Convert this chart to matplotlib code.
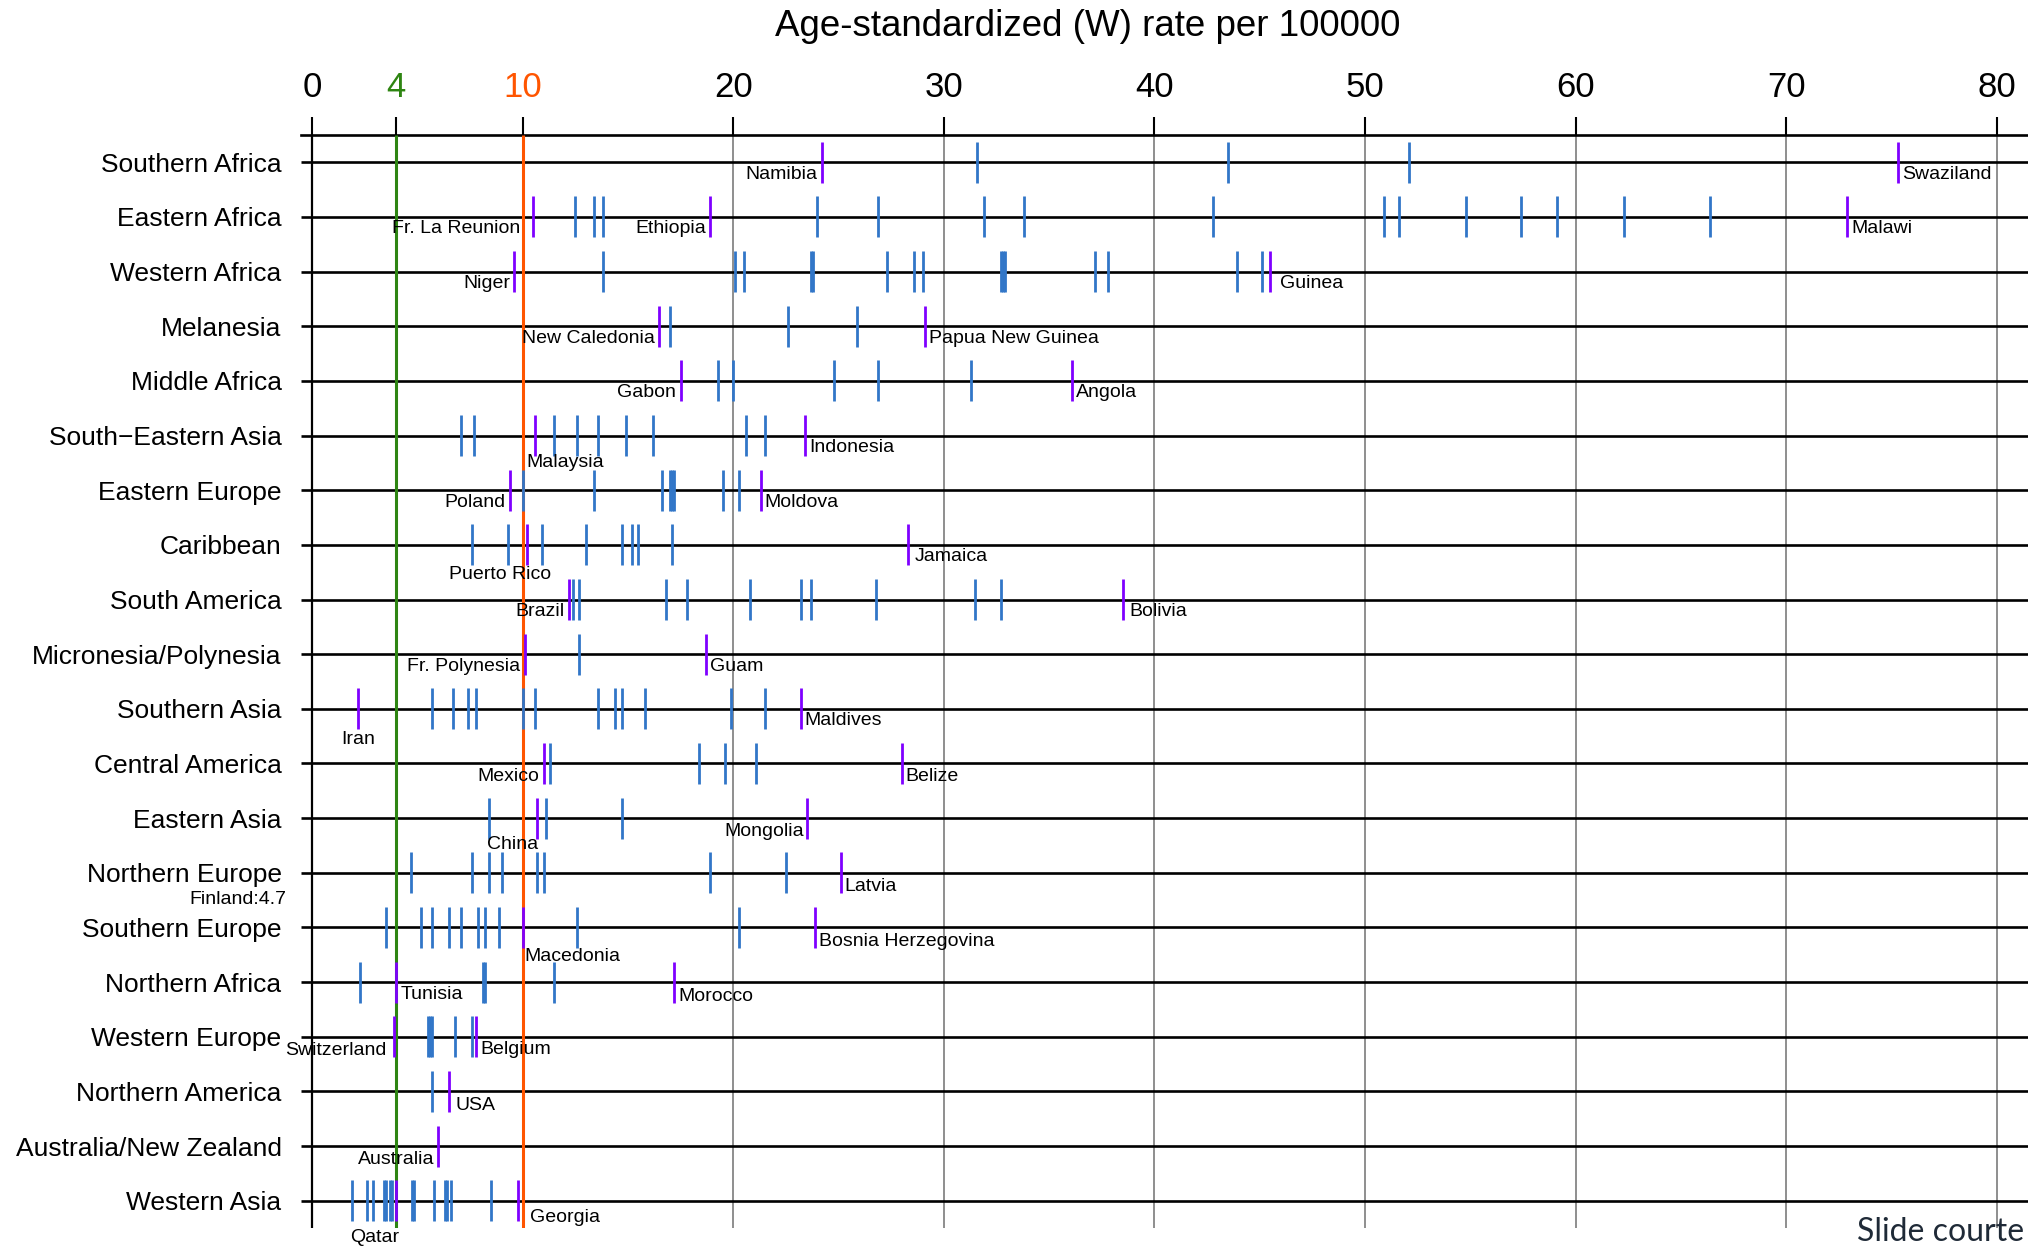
import matplotlib
matplotlib.use("Agg")
import matplotlib.pyplot as plt

plt.rcParams['font.family'] = ['Liberation Sans', 'DejaVu Sans']

# ---------------- data ----------------
regions = ["Southern Africa", "Eastern Africa", "Western Africa", "Melanesia",
           "Middle Africa", "South\u2212Eastern Asia", "Eastern Europe", "Caribbean",
           "South America", "Micronesia/Polynesia", "Southern Asia", "Central America",
           "Eastern Asia", "Northern Europe", "Southern Europe", "Northern Africa",
           "Western Europe", "Northern America", "Australia/New Zealand", "Western Asia"]

southern_africa = [31.6, 43.5, 52.1]
eastern_africa = [12.5, 13.4, 13.8, 24.0, 26.9, 31.9, 33.8, 42.8, 50.9, 51.6,
                  54.8, 57.4, 59.1, 62.3, 66.4]
western_africa = [13.8, 20.1, 20.5, 23.7, 23.8, 27.3, 28.6, 29.0, 32.7, 32.8,
                  32.9, 37.2, 37.8, 43.9, 45.1]
melanesia = [17.0, 22.6, 25.9]
middle_africa = [19.3, 20.0, 24.8, 26.9, 31.3]
south_eastern_asia = [7.1, 7.7, 11.5, 12.6, 13.6, 14.9, 16.2, 20.6, 21.5]
eastern_europe = [10.0, 13.4, 16.6, 17.0, 17.1, 17.2, 19.5, 20.3]
caribbean = [7.6, 9.3, 10.9, 13.0, 14.7, 15.2, 15.5, 17.1]
south_america = [12.4, 12.7, 16.8, 17.8, 20.8, 23.2, 23.7, 26.8, 31.5, 32.7]
micronesia_polynesia = [12.7]
southern_asia = [5.7, 6.7, 7.4, 7.8, 10.0, 10.6, 13.6, 14.4, 14.7, 15.8, 19.9, 21.5]
central_america = [11.3, 18.4, 19.6, 21.1]
eastern_asia = [8.4, 11.1, 14.7]
northern_europe = [4.7, 7.6, 8.4, 9.0, 10.7, 11.0, 18.9, 22.5]
southern_europe = [3.5, 5.2, 5.7, 6.5, 7.1, 7.9, 8.2, 8.9, 12.6, 20.3]
northern_africa = [2.3, 8.1, 8.2, 11.5]
western_europe = [5.5, 5.6, 5.7, 6.8, 7.6]
northern_america = [5.7]
australia_nz = []
western_asia = [1.9, 2.6, 2.9, 3.4, 3.5, 3.7, 3.8, 4.75, 4.85, 5.8, 6.3, 6.4, 6.6, 8.5]

rates = [southern_africa, eastern_africa, western_africa, melanesia, middle_africa,
         south_eastern_asia, eastern_europe, caribbean, south_america,
         micronesia_polynesia, southern_asia, central_america, eastern_asia,
         northern_europe, southern_europe, northern_africa, western_europe,
         northern_america, australia_nz, western_asia]

# highlighted (labelled) countries
hl_country = ["Namibia", "Swaziland", "Fr. La Reunion", "Ethiopia", "Malawi",
              "Niger", "Guinea", "New Caledonia", "Papua New Guinea", "Gabon", "Angola",
              "Malaysia", "Indonesia", "Poland", "Moldova", "Puerto Rico", "Jamaica",
              "Brazil", "Bolivia", "Fr. Polynesia", "Guam", "Iran", "Maldives",
              "Mexico", "Belize", "China", "Mongolia", "Latvia", "Macedonia",
              "Bosnia Herzegovina", "Tunisia", "Morocco", "Switzerland", "Belgium",
              "USA", "Australia", "Qatar", "Georgia"]
hl_region = [0, 0, 1, 1, 1, 2, 2, 3, 3, 4, 4, 5, 5, 6, 6, 7, 7, 8, 8, 9, 9, 10, 10,
             11, 11, 12, 12, 13, 14, 14, 15, 15, 16, 16, 17, 18, 19, 19]
hl_rate = [24.2, 75.3, 10.5, 18.9, 72.9, 9.6, 45.5, 16.5, 29.1, 17.5, 36.1,
           10.6, 23.4, 9.4, 21.3, 10.2, 28.3, 12.2, 38.5, 10.1, 18.7, 2.2, 23.2,
           11.0, 28.0, 10.7, 23.5, 25.1, 10.0, 23.9, 4.0, 17.2, 3.9, 7.8,
           6.5, 6.0, 4.0, 9.8]

note_text = "Finland:4.7"
note_region = 13

xticks = [0, 4, 10, 20, 30, 40, 50, 60, 70, 80]
title = "Age-standardized (W) rate per 100000"
credit = "Slide courte"

# ---------------- layout / style ----------------
# label placement: (ha, dx in data units, dy in rows, offset points)
layout = {
    "Namibia": ("right", 0, 0.22, -3), "Swaziland": ("left", 0, 0.22, 3),
    "Fr. La Reunion": ("right", -0.4, 0.22, -3), "Ethiopia": ("right", 0, 0.22, -3),
    "Malawi": ("left", 0, 0.22, 3), "Niger": ("right", 0, 0.22, -3),
    "Guinea": ("left", 0.25, 0.22, 3), "New Caledonia": ("right", 0, 0.22, -3),
    "Papua New Guinea": ("left", 0, 0.22, 3), "Gabon": ("right", 0, 0.22, -3),
    "Angola": ("left", 0, 0.22, 3), "Malaysia": ("left", -0.4, 0.49, 0),
    "Indonesia": ("left", 0, 0.22, 3), "Poland": ("right", 0, 0.22, -3),
    "Moldova": ("left", 0, 0.22, 3), "Puerto Rico": ("center", -1.25, 0.55, 0),
    "Jamaica": ("left", 0.1, 0.22, 3), "Brazil": ("right", 0, 0.22, -3),
    "Bolivia": ("left", 0.1, 0.22, 3), "Fr. Polynesia": ("right", 0, 0.22, -3),
    "Guam": ("left", 0, 0.22, 3), "Iran": ("center", 0, 0.56, 0),
    "Maldives": ("left", 0, 0.22, 3), "Mexico": ("right", 0, 0.24, -3),
    "Belize": ("left", 0, 0.24, 3), "China": ("right", 0.05, 0.48, 0),
    "Mongolia": ("right", 0, 0.25, -2), "Latvia": ("left", 0, 0.25, 3),
    "Macedonia": ("left", 0.1, 0.53, 0), "Bosnia Herzegovina": ("left", 0, 0.25, 3),
    "Tunisia": ("left", 0, 0.23, 3), "Morocco": ("left", 0, 0.26, 3),
    "Switzerland": ("right", -0.15, 0.26, -3), "Belgium": ("left", 0, 0.24, 3),
    "USA": ("left", 0.1, 0.25, 3), "Australia": ("right", 0, 0.25, -3),
    "Qatar": ("center", -1.0, 0.68, 0), "Georgia": ("left", 0.35, 0.3, 3),
}

BLUE = "#3176C8"
PURPLE = "#7F00FF"
GREEN = "#2E8512"
ORANGE = "#FF5500"
GRAY = "#8E8E8E"

W, H = 2028, 1249
fig = plt.figure(figsize=(W / 100, H / 100), dpi=100)
ax = fig.add_axes([301 / W, 1 - 1228 / H, (W - 301) / W, (1228 - 135) / H])
n = len(regions)
xmin, xmax = -0.52, 81.48
ax.set_xlim(xmin, xmax)
ax.set_ylim(n - 0.5, -0.5)

# grid lines
for v in xticks:
    if v >= 20:
        ax.vlines(v, -0.5, n - 0.5, color=GRAY, lw=1.4, zorder=1)
# row lines
ax.hlines(range(n), xmin, xmax, color="black", lw=1.9, zorder=2)
# reference lines
ax.vlines(0, -0.5, n - 0.5, color="black", lw=1.6, zorder=3)
ax.vlines(4, -0.5, n - 0.5, color=GREEN, lw=2.2, zorder=3)
ax.vlines(10, -0.5, n - 0.5, color=ORANGE, lw=2.2, zorder=3)

# data ticks
half = 0.375
for i, vals in enumerate(rates):
    if vals:
        ax.vlines(vals, i - half, i + half, color=BLUE, lw=2.0, zorder=4)
ax.vlines(hl_rate, [r - half for r in hl_region], [r + half for r in hl_region],
          color=PURPLE, lw=2.0, zorder=5)

# labels
for name, r, v in zip(hl_country, hl_region, hl_rate):
    ha, dx, dy, off = layout[name]
    ax.annotate(name, xy=(v + dx, r + dy), xytext=(off, 0), textcoords="offset points",
                ha=ha, va="center", fontsize=14, zorder=6, annotation_clip=False)
ax.text(-1.2, note_region + 0.48, note_text, ha="right", va="center", fontsize=14,
        clip_on=False)

# spines / axes
for s in ["left", "right", "bottom"]:
    ax.spines[s].set_visible(False)
ax.spines["top"].set_linewidth(1.9)
ax.xaxis.tick_top()
ax.set_xticks(xticks)
ax.set_xticklabels([str(t) for t in xticks])
ax.tick_params(axis="x", which="both", top=True, bottom=False, length=13, width=1.5,
               pad=9, labelsize=25)
tick_colors = {4: GREEN, 10: ORANGE}
for t, tk in zip(xticks, ax.xaxis.get_major_ticks()):
    c = tick_colors.get(t, "black")
    tk.tick2line.set_color(c)
    tk.label2.set_color(c)

ax.set_yticks(range(n))
ax.set_yticklabels(regions)
ax.tick_params(axis="y", length=0, pad=14, labelsize=19)

fig.text(1088 / W, 1 - 26 / H, title, ha="center", va="center", fontsize=26.5)
fig.text(2024 / W, 1 - 1241 / H, credit, ha="right", va="baseline",
         fontsize=23, color="#1F2A37", family=["Lato", "DejaVu Sans"])

fig.savefig("out.png", dpi=100)
